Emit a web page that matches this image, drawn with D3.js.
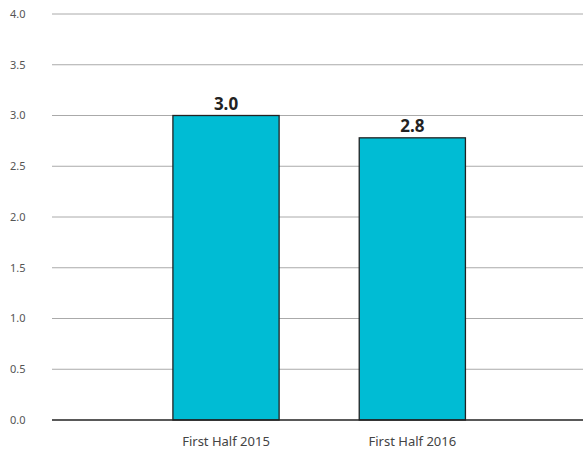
<!DOCTYPE html>
<html>
<head>
    <meta charset="UTF-8">
    <script src="https://d3js.org/d3.v7.min.js"></script>
    <style type="text/css">
        body { margin: 0; background: #fff; }
        text { font-family: "Noto Sans", "Open Sans", sans-serif; }
    </style>
</head>
<body>
    <script type="text/javascript">
        // chart data
        var categories = ["First Half 2015", "First Half 2016"];
        var values = [3.0, 2.78];
        var yTicks = [0, 0.5, 1.0, 1.5, 2.0, 2.5, 3.0, 3.5, 4.0];

        var width = 583, height = 455;
        var plotLeft = 52, plotRight = 583, plotTop = 14, plotBottom = 420;

        var svg = d3.select("body").append("svg")
            .attr("width", width)
            .attr("height", height);

        var x = d3.scaleBand()
            .domain(categories)
            .range([plotLeft, plotRight])
            .paddingInner(0.43)
            .paddingOuter(0.64)
            .align(0.507);

        var y = d3.scaleLinear()
            .domain([0, 4])
            .range([plotBottom, plotTop]);

        // gridlines
        svg.append("g").selectAll("line")
            .data(yTicks.filter(function (d) { return d > 0; }))
            .join("line")
            .attr("x1", plotLeft).attr("x2", plotRight)
            .attr("y1", function (d) { return y(d); })
            .attr("y2", function (d) { return y(d); })
            .attr("stroke", "#aaa")
            .attr("stroke-width", 1);

        // y tick labels
        svg.append("g").selectAll("text")
            .data(yTicks)
            .join("text")
            .attr("x", 10)
            .attr("y", function (d) { return y(d); })
            .attr("dy", "0.35em")
            .attr("font-size", "11px")
            .attr("fill", "#555")
            .text(function (d) { return d3.format(".1f")(d); });

        // bars
        svg.append("g").selectAll("rect")
            .data(values)
            .join("rect")
            .attr("x", function (d, i) { return x(categories[i]); })
            .attr("y", function (d) { return y(d); })
            .attr("width", x.bandwidth())
            .attr("height", function (d) { return y(0) - y(d); })
            .attr("fill", "#00bcd4")
            .attr("stroke", "#222")
            .attr("stroke-width", 1.3);

        // value labels
        svg.append("g").selectAll("text")
            .data(values)
            .join("text")
            .attr("x", function (d, i) { return x(categories[i]) + x.bandwidth() / 2; })
            .attr("y", function (d) { return y(d) - 6; })
            .attr("text-anchor", "middle")
            .attr("font-size", "17px")
            .attr("font-weight", "bold")
            .attr("fill", "#222")
            .text(function (d) { return d3.format(".1f")(d); });

        // baseline
        svg.append("line")
            .attr("x1", plotLeft).attr("x2", plotRight)
            .attr("y1", y(0)).attr("y2", y(0))
            .attr("stroke", "#222")
            .attr("stroke-width", 1.3);

        // category labels
        svg.append("g").selectAll("text")
            .data(categories)
            .join("text")
            .attr("x", function (d) { return x(d) + x.bandwidth() / 2; })
            .attr("y", 446)
            .attr("text-anchor", "middle")
            .attr("font-size", "13px")
            .attr("fill", "#444")
            .text(function (d) { return d; });
    </script>
</body>
</html>
